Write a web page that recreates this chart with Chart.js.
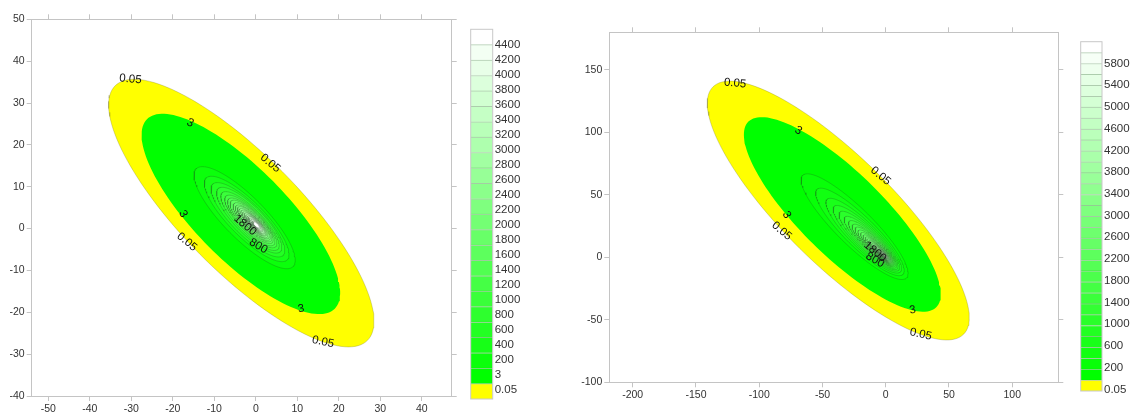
<!DOCTYPE html>
<html>
<head>
<meta charset="utf-8">
<script src="https://cdn.jsdelivr.net/npm/chart.js@4.4.1/dist/chart.umd.min.js"></script>
<style>
  body { margin: 0; background: #fff; }
  #wrap { position: relative; width: 1132px; height: 412px; overflow: hidden; }
  canvas { position: absolute; top: 0; }
</style>
</head>
<body>
<div id="wrap">
  <canvas id="plotA" width="460" height="412" style="left:0px"></canvas>
  <canvas id="barA" width="100" height="412" style="left:462px"></canvas>
  <canvas id="plotB" width="500" height="412" style="left:570px"></canvas>
  <canvas id="barB" width="60" height="412" style="left:1072px"></canvas>
</div>
<script>
// ---- left panel ----
const leftLevels = [0.05, 3, 200, 400, 600, 800, 1000, 1200, 1400, 1600, 1800, 2000, 2200, 2400, 2600, 2800, 3000, 3200, 3400, 3600, 3800, 4000, 4200, 4400];
const leftCx = [-3.5, -3.6, -2.7, -2.2, -1.9, -1.6, -1.4, -1.2, -1.1, -1.0, -0.8, -0.7, -0.6, -0.6, -0.5, -0.4, -0.3, -0.2, -0.2, -0.1, -0.1, 0.0, 0.1, 0.1];
const leftCy = [3.7, 3.5, 2.6, 2.3, 2.1, 2.0, 1.8, 1.7, 1.6, 1.6, 1.5, 1.4, 1.4, 1.3, 1.3, 1.2, 1.2, 1.1, 1.1, 1.1, 1.0, 1.0, 0.9, 0.9];
const leftMajor = [43, 32, 16.5, 13.8, 12.0, 10.6, 9.5, 8.5, 7.7, 7.0, 6.3, 5.7, 5.2, 4.7, 4.2, 3.8, 3.4, 3.0, 2.6, 2.3, 2.0, 1.6, 1.3, 1.0];
const leftMinor = [14, 11, 5.0, 4.2, 3.7, 3.3, 2.9, 2.6, 2.4, 2.2, 2.0, 1.8, 1.6, 1.5, 1.3, 1.2, 1.1, 1.0, 0.9, 0.8, 0.7, 0.6, 0.5, 0.4];
const leftXTicks = [-50, -40, -30, -20, -10, 0, 10, 20, 30, 40];
const leftYTicks = [-40, -30, -20, -10, 0, 10, 20, 30, 40, 50];
const leftScaleLabels = ['0.05', '3', '200', '400', '600', '800', '1000', '1200', '1400', '1600', '1800', '2000', '2200', '2400', '2600', '2800', '3000', '3200', '3400', '3600', '3800', '4000', '4200', '4400'];
const leftLabelText = ['0.05', '0.05', '0.05', '0.05', '3', '3', '3', '1800', '800'];
const leftLabelX = [-30.2, 3.5, -16.6, 16.2, -15.8, -17.5, 10.9, -2.6, 0.6];
const leftLabelY = [35.7, 15.6, -3.2, -27.1, 25.2, 3.5, -19.2, 0.8, -4.2];
const leftLabelRot = [5, 40, 40, 12, 25, 60, -10, 40, 30];

// ---- right panel ----
const rightLevels = [0.05, 3, 200, 400, 600, 800, 1000, 1200, 1400, 1600, 1800, 2000, 2200, 2400, 2600, 2800, 3000, 3200, 3400, 3600, 3800, 4000, 4200, 4400, 4600, 4800, 5000, 5200, 5400, 5600, 5800, 6000];
const rightCx = [-37.5, -34.3, -24.6, -20.4, -17.4, -15.3, -13.6, -12.1, -10.8, -9.8, -8.9, -8.1, -7.3, -6.6, -6.0, -5.5, -5.0, -4.5, -4.1, -3.7, -3.3, -3.0, -2.6, -2.3, -2.0, -1.8, -1.5, -1.3, -1.1, -0.8, -0.6, -0.4];
const rightCy = [37.4, 34.3, 24.5, 20.3, 17.3, 15.2, 13.5, 12.0, 10.8, 9.7, 8.9, 8.0, 7.3, 6.6, 6.0, 5.4, 4.9, 4.5, 4.1, 3.7, 3.3, 3.0, 2.6, 2.3, 2.0, 1.8, 1.5, 1.3, 1.1, 0.8, 0.6, 0.4];
const rightMajor = [140, 105, 58, 48, 41, 36, 32, 28.5, 25.5, 23, 21, 19, 17.2, 15.6, 14.2, 12.9, 11.7, 10.6, 9.6, 8.7, 7.8, 7.0, 6.2, 5.5, 4.8, 4.2, 3.6, 3.0, 2.5, 2.0, 1.5, 1.0];
const rightMinor = [43, 33, 14.5, 12, 10.3, 9, 8, 7.1, 6.4, 5.8, 5.3, 4.8, 4.3, 3.9, 3.6, 3.2, 2.9, 2.7, 2.4, 2.2, 2.0, 1.8, 1.6, 1.4, 1.2, 1.1, 0.9, 0.8, 0.6, 0.5, 0.4, 0.3];
const rightXTicks = [-200, -150, -100, -50, 0, 50, 100];
const rightYTicks = [-100, -50, 0, 50, 100, 150];
const rightScaleLabels = ['0.05', '200', '600', '1000', '1400', '1800', '2200', '2600', '3000', '3400', '3800', '4200', '4600', '5000', '5400', '5800'];
const rightLabelText = ['0.05', '0.05', '0.05', '0.05', '3', '3', '3', '1800', '800'];
const rightLabelX = [-119.1, -4, -82.2, 27.7, -69.1, -78.3, 21.3, -8.5, -8.5];
const rightLabelY = [139.2, 65, 21, -61.6, 101.3, 33.8, -42.2, 4.5, -2.2];
const rightLabelRot = [5, 40, 40, 12, 30, 60, -10, 40, 30];

const FONT = "'Liberation Sans', Arial, sans-serif";
const AXIS = '#c4c4c4';
const TEXT = '#333';

// colour of the band that starts at a level
function bandColor(level, top) {
  if (level < 1) return 'rgb(255,255,0)';
  const t = Math.min(1, (level - 3) / (top - 3));
  const c = Math.round(255 * t);
  return 'rgb(' + c + ',255,' + c + ')';
}

// outline of one contour (ellipse tilted along the y = -x diagonal)
function ellipse(cx, cy, a, b) {
  const pts = [];
  const u = Math.SQRT1_2;
  for (let k = 0; k <= 140; k++) {
    const t = k / 140 * 2 * Math.PI;
    const p = a * Math.cos(t), q = b * Math.sin(t);
    pts.push({ x: cx + u * (p + q), y: cy + u * (q - p) });
  }
  return pts;
}

const contourLabels = {
  id: 'contourLabels',
  afterDatasetsDraw(chart, args, opts) {
    const ctx = chart.ctx;
    const xs = chart.scales.x, ys = chart.scales.y;
    ctx.save();
    ctx.font = '11.5px ' + FONT;
    ctx.fillStyle = '#111';
    ctx.textAlign = 'center';
    ctx.textBaseline = 'middle';
    opts.text.forEach(function(t, i) {
      ctx.save();
      ctx.translate(xs.getPixelForValue(opts.x[i]), ys.getPixelForValue(opts.y[i]));
      ctx.rotate(opts.rot[i] * Math.PI / 180);
      ctx.fillText(t, 0, 0);
      ctx.restore();
    });
    ctx.restore();
  }
};

const boxOutline = {
  id: 'boxOutline',
  afterDraw(chart) {
    const a = chart.chartArea, ctx = chart.ctx;
    ctx.save();
    ctx.strokeStyle = '#c8c8c8';
    ctx.lineWidth = 1;
    ctx.strokeRect(a.left, a.top, a.right - a.left, a.bottom - a.top);
    ctx.restore();
  }
};

function makePlot(canvasId, p) {
  const datasets = [];
  const top = p.levels[p.levels.length - 1];
  for (let i = p.levels.length - 1; i >= 0; i--) {
    const lv = p.levels[i];
    datasets.push({
      data: ellipse(p.cx[i], p.cy[i], p.major[i], p.minor[i]),
      backgroundColor: bandColor(lv, top),
      borderColor: lv < 1 ? 'rgba(120,120,40,0.6)' : 'rgba(30,70,30,0.5)',
      borderWidth: lv === 3 ? 0 : 0.5,
      fill: 'shape',
      pointRadius: 0,
      tension: 0
    });
  }
  const tickFont = { family: FONT, size: 10.5 };
  function axis(pos, ticks, min, max, size, showLabels) {
    const horiz = pos === 'top' || pos === 'bottom';
    return {
      type: 'linear', position: pos, min: min, max: max,
      axis: horiz ? 'x' : 'y',
      afterBuildTicks: function(s) { s.ticks = ticks.map(function(v) { return { value: v }; }); },
      afterFit: function(s) { if (horiz) s.height = size; else s.width = size; },
      ticks: { display: showLabels, font: tickFont, color: TEXT, padding: 2, maxRotation: 0, autoSkip: false },
      grid: { drawOnChartArea: false, drawTicks: true, tickLength: 5, color: AXIS, lineWidth: 1 },
      border: { color: AXIS, width: 1 }
    };
  }
  return new Chart(document.getElementById(canvasId), {
    type: 'line',
    data: { datasets: datasets },
    options: {
      responsive: false, animation: false, devicePixelRatio: 1,
      layout: { padding: 0, autoPadding: false },
      plugins: {
        legend: { display: false }, tooltip: { enabled: false },
        contourLabels: { text: p.labelText, x: p.labelX, y: p.labelY, rot: p.labelRot }
      },
      scales: {
        x: axis('bottom', p.xTicks, p.xMin, p.xMax, p.bottom, true),
        x2: axis('top', p.xTicks, p.xMin, p.xMax, p.top, false),
        y: axis('left', p.yTicks, p.yMin, p.yMax, p.left, true),
        y2: axis('right', p.yTicks, p.yMin, p.yMax, p.right, false)
      }
    },
    plugins: [contourLabels]
  });
}

function makeScale(canvasId, levels, labels, lo, hi, pad, axisWidth) {
  const top = levels[levels.length - 1];
  const datasets = levels.map(function(lv, i) {
    return {
      data: [1],
      backgroundColor: bandColor(lv, top),
      borderColor: 'rgba(0,90,0,0.3)',
      borderWidth: i === levels.length - 1 ? 0 : { top: 1, bottom: 0, left: 0, right: 0 },
      borderSkipped: false,
      barPercentage: 1, categoryPercentage: 1
    };
  });
  return new Chart(document.getElementById(canvasId), {
    type: 'bar',
    data: { labels: [''], datasets: datasets },
    options: {
      responsive: false, animation: false, devicePixelRatio: 1,
      layout: { padding: pad, autoPadding: false },
      plugins: { legend: { display: false }, tooltip: { enabled: false } },
      scales: {
        x: { stacked: true, display: false },
        y: {
          stacked: true, position: 'right', min: 0, max: levels.length,
          afterBuildTicks: function(s) {
            s.ticks = labels.map(function(l, i) { return { value: lo + i * (hi - lo) / (labels.length - 1) }; });
          },
          afterFit: function(s) { s.width = axisWidth; },
          ticks: {
            autoSkip: false, padding: 2, color: TEXT, font: { family: FONT, size: 11.5 },
            callback: function(v, i) { return labels[i]; }
          },
          grid: { display: false, drawTicks: false },
          border: { display: false }
        }
      }
    },
    plugins: [boxOutline]
  });
}

makePlot('plotA', {
  levels: leftLevels, cx: leftCx, cy: leftCy, major: leftMajor, minor: leftMinor,
  xTicks: leftXTicks, yTicks: leftYTicks, xMin: -54, xMax: 47.2, yMin: -40, yMax: 50,
  left: 31.7, right: 8.3, top: 19.3, bottom: 16,
  labelText: leftLabelText, labelX: leftLabelX, labelY: leftLabelY, labelRot: leftLabelRot
});
makeScale('barA', leftLevels, leftScaleLabels, 0.6, 23, { left: 8.7, top: 29.3, bottom: 13, right: 0 }, 69.3);

makePlot('plotB', {
  levels: rightLevels, cx: rightCx, cy: rightCy, major: rightMajor, minor: rightMinor,
  xTicks: rightXTicks, yTicks: rightYTicks, xMin: -218.5, xMax: 136.4, yMin: -100, yMax: 180,
  left: 39.3, right: 11.7, top: 32.3, bottom: 29.7,
  labelText: rightLabelText, labelX: rightLabelX, labelY: rightLabelY, labelRot: rightLabelRot
});
makeScale('barB', rightLevels, rightScaleLabels, 0.15, 30, { left: 8.7, top: 41.7, bottom: 21, right: 0 }, 30);
</script>
</body>
</html>
